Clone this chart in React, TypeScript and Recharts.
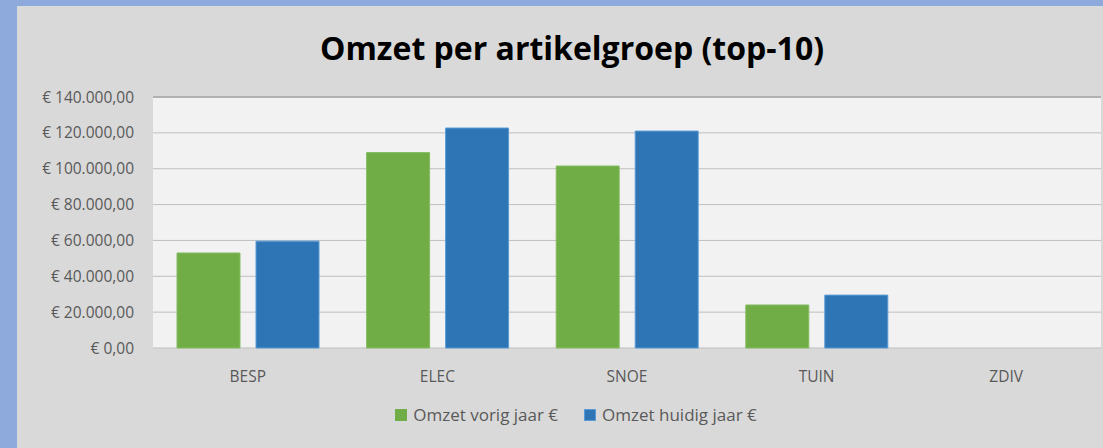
import React from 'react';
import { BarChart, Bar, XAxis, YAxis, CartesianGrid, Legend, ReferenceLine } from 'recharts';

const categories = ['BESP', 'ELEC', 'SNOE', 'TUIN', 'ZDIV'];
const omzetVorigJaar = [53000, 109000, 101500, 24000, 0];
const omzetHuidigJaar = [59600, 122700, 121000, 29500, 0];
const yTicks = [0, 20000, 40000, 60000, 80000, 100000, 120000, 140000];

const data = categories.map((name, i) => ({
  name,
  vorig: omzetVorigJaar[i],
  huidig: omzetHuidigJaar[i],
}));

const FONT = '"Open Sans", "Noto Sans", sans-serif';
const GREY_TEXT = '#595959';

// Dutch currency notation: € 140.000,00
function euro(value: number) {
  const whole = Math.floor(value).toString().replace(/\B(?=(\d{3})+(?!\d))/g, '.');
  return '€ ' + whole + ',00';
}

function LegendContent() {
  const items = [
    { label: 'Omzet vorig jaar €', color: '#70AD47', border: '#70AD47' },
    { label: 'Omzet huidig jaar €', color: '#2E75B6', border: '#5B9BD5' },
  ];
  return (
    <div style={{ display: 'flex', justifyContent: 'center', gap: 26, paddingLeft: 34, fontFamily: FONT, fontSize: 17, color: GREY_TEXT, lineHeight: '24px' }}>
      {items.map((it) => (
        <div key={it.label} style={{ display: 'flex', alignItems: 'center' }}>
          <span style={{ width: 10, height: 10, background: it.color, border: `1px solid ${it.border}`, marginRight: 6, display: 'inline-block' }} />
          <span>{it.label}</span>
        </div>
      ))}
    </div>
  );
}

export default function App() {
  return (
    <div style={{ position: 'absolute', left: 0, top: 0, width: 1103, height: 448, background: '#8EA9DB', overflow: 'hidden' }}>
      <div style={{ position: 'absolute', left: 17, top: 6, width: 1086, height: 442, background: '#D9D9D9' }}>
        <div style={{ position: 'absolute', left: 0, top: 20, width: 1110, textAlign: 'center', fontFamily: FONT, fontWeight: 700, fontSize: 32, color: '#000' }}>
          Omzet per artikelgroep (top-10)
        </div>
        <BarChart
          width={1086}
          height={442}
          data={data}
          margin={{ top: 91, right: 2, bottom: 18, left: 0 }}
          barSize={63}
          barGap={16}
        >
          <CartesianGrid vertical={false} stroke="#BFBFBF" fill="#F2F2F2" />
          <XAxis
            dataKey="name"
            axisLine={false}
            tickLine={false}
            tickSize={0}
            tickMargin={23}
            height={58}
            tick={{ fill: GREY_TEXT, fontSize: 15.5, fontFamily: FONT }}
          />
          <YAxis
            width={136}
            domain={[0, 140000]}
            ticks={yTicks}
            axisLine={false}
            tickLine={false}
            tickSize={0}
            tickMargin={19}
            tickFormatter={euro}
            tick={{ fill: GREY_TEXT, fontSize: 15.5, fontFamily: FONT }}
          />
          <ReferenceLine y={140000} stroke="#A6A6A6" strokeWidth={1.5} />
          <Legend verticalAlign="bottom" content={<LegendContent />} wrapperStyle={{ bottom: 21 }} />
          <Bar dataKey="vorig" name="Omzet vorig jaar €" fill="#70AD47" stroke="#86BC62" strokeWidth={1} isAnimationActive={false} />
          <Bar dataKey="huidig" name="Omzet huidig jaar €" fill="#2E75B6" stroke="#5B9BD5" strokeWidth={1} isAnimationActive={false} />
        </BarChart>
      </div>
    </div>
  );
}
